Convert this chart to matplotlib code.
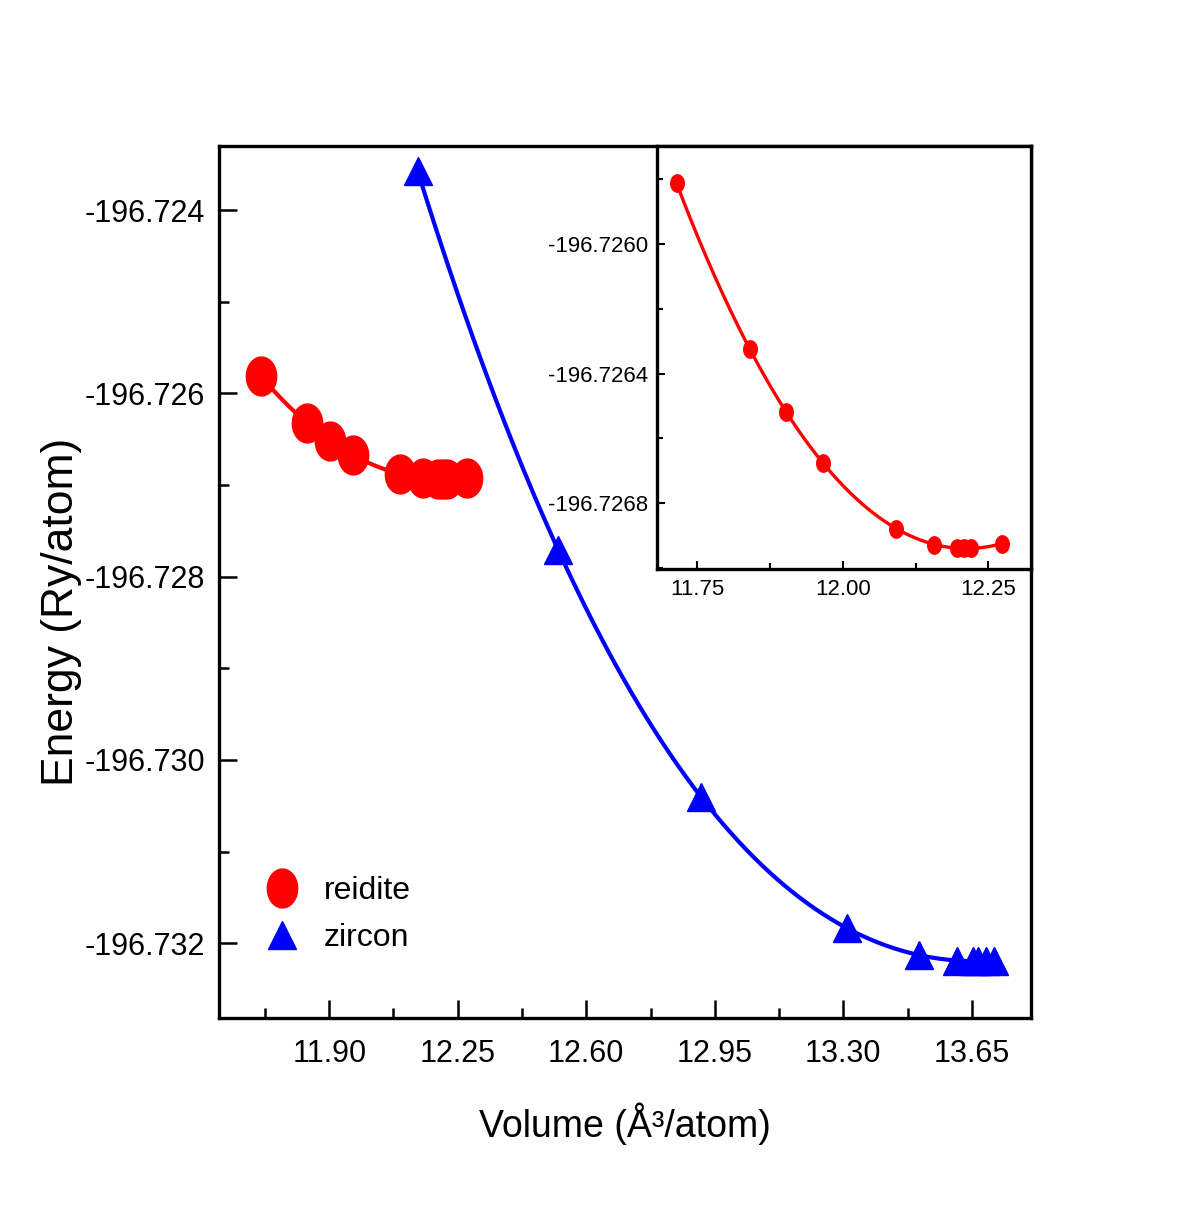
import numpy as np
import matplotlib.pyplot as plt
from matplotlib.path import Path
from matplotlib.ticker import MultipleLocator, FormatStrFormatter

plt.rcParams['font.family'] = ['Liberation Sans', 'DejaVu Sans']
plt.rcParams['axes.unicode_minus'] = False

# volumes (A^3/atom) and energies (Ry/atom)
reidite_v = [11.714, 11.840, 11.903, 11.966, 12.092, 12.156, 12.197, 12.209, 12.221, 12.274]
reidite_e = [-196.725813, -196.726324, -196.726520, -196.726676, -196.726880,
             -196.726928, -196.726938, -196.726938, -196.726938, -196.726926]
zircon_v = [12.141, 12.524, 12.913, 13.309, 13.507, 13.609, 13.653, 13.667, 13.689, 13.709]
zircon_e = [-196.723577, -196.727713, -196.730407, -196.731832, -196.732131,
            -196.732192, -196.732192, -196.732192, -196.732192, -196.732192]

RED = '#ff0000'
BLUE = '#0000ff'

# slightly squashed circle, as in the picture
t = np.linspace(0, 2 * np.pi, 64)
oval = Path(np.column_stack([0.78 * np.cos(t), np.sin(t)]), closed=True)


def smooth(v, e, deg=3):
    v = np.asarray(v)
    e = np.asarray(e)
    e0 = e.mean()
    p = np.polynomial.Polynomial.fit(v, e - e0, deg)
    vv = np.linspace(v.min(), v.max(), 300)
    return vv, p(vv) + e0


fig = plt.figure(figsize=(11.84, 12.10), dpi=100)
ax = fig.add_axes([0.185, 0.1584, 0.6855, 0.7212])

vv, ee = smooth(reidite_v, reidite_e)
ax.plot(vv, ee, color=RED, lw=3)
ax.plot(reidite_v, reidite_e, ls='none', marker=oval, ms=28, color=RED, label='reidite')
vv, ee = smooth(zircon_v, zircon_e, 4)
ax.plot(vv, ee, color=BLUE, lw=3)
ax.plot(zircon_v, zircon_e, ls='none', marker='^', ms=20, color=BLUE, label='zircon')

ax.set_xlim(11.60, 13.81)
ax.set_ylim(-196.732819, -196.723298)
ax.xaxis.set_major_locator(MultipleLocator(0.35))
ax.xaxis.set_minor_locator(MultipleLocator(0.175))
ax.yaxis.set_major_locator(MultipleLocator(0.002))
ax.yaxis.set_minor_locator(MultipleLocator(0.001))
ax.xaxis.set_major_formatter(FormatStrFormatter('%.2f'))
ax.yaxis.set_major_formatter(FormatStrFormatter('%.3f'))
ax.tick_params(which='both', direction='in', top=False, right=False, width=1.8)
ax.tick_params(which='major', length=13, labelsize=22)
ax.tick_params(which='minor', length=7)
ax.tick_params(axis='x', pad=15)
ax.tick_params(axis='y', pad=10)
for s in ax.spines.values():
    s.set_linewidth(2.4)

ax.set_xlabel('Volume (Å³/atom)', fontsize=27, labelpad=24)
ax.set_ylabel('Energy (Ry/atom)', fontsize=32)
ax.yaxis.set_label_coords(-0.169, 0.4656)

ax.legend(loc='upper left', bbox_to_anchor=(0.056, 0.163), frameon=False,
          fontsize=23, handlelength=1.1, handletextpad=0.75, labelspacing=0.52,
          borderpad=0, borderaxespad=0)

# inset: reidite close-up
axin = fig.add_axes([0.5547, 0.5295, 0.3158, 0.3501])
vv, ee = smooth(reidite_v, reidite_e)
axin.plot(vv, ee, color=RED, lw=2.4)
axin.plot(reidite_v, reidite_e, ls='none', marker=oval, ms=12.5, color=RED)
axin.set_xlim(11.68, 12.323)
axin.set_ylim(-196.727004, -196.725697)
axin.xaxis.set_major_locator(MultipleLocator(0.25))
axin.xaxis.set_minor_locator(MultipleLocator(0.125))
axin.yaxis.set_major_locator(MultipleLocator(0.0004))
axin.yaxis.set_minor_locator(MultipleLocator(0.0002))
axin.xaxis.set_major_formatter(FormatStrFormatter('%.2f'))
axin.yaxis.set_major_formatter(FormatStrFormatter('%.4f'))
axin.tick_params(which='both', direction='in', top=False, right=False, width=1.5, labelsize=16)
axin.tick_params(which='major', length=6)
axin.tick_params(which='minor', length=4)
axin.tick_params(axis='x', pad=7)
axin.tick_params(axis='y', pad=6)
for s in axin.spines.values():
    s.set_linewidth(2.4)

fig.savefig('out.png', dpi=100, facecolor='white')
